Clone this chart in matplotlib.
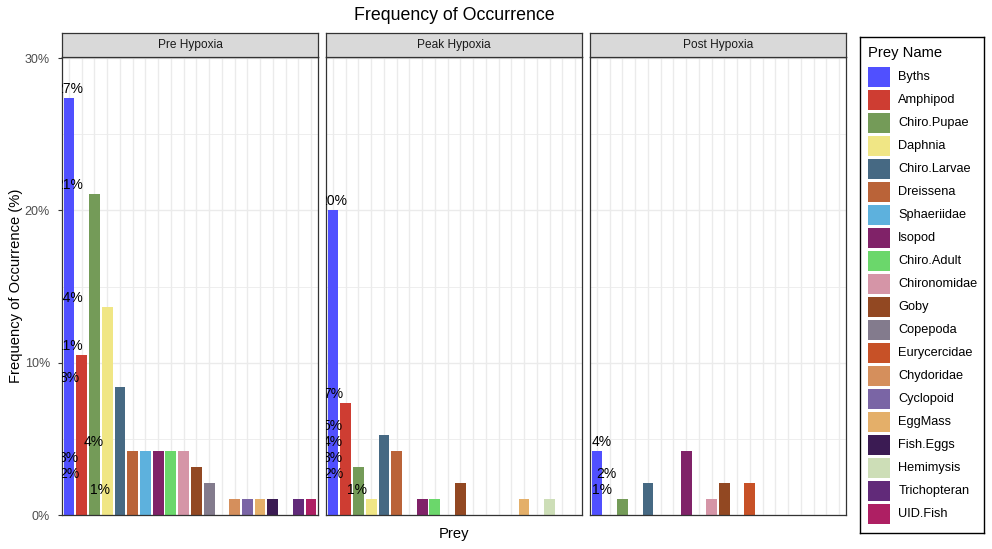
import matplotlib.pyplot as plt
from matplotlib.patches import Rectangle

# Config
W, H = 992, 549
OUT_PATH = "out.png"

plt.rcParams["font.family"] = ["Liberation Sans", "DejaVu Sans"]

prey = ["Byths", "Amphipod", "Chiro.Pupae", "Daphnia", "Chiro.Larvae", "Dreissena",
        "Sphaeriidae", "Isopod", "Chiro.Adult", "Chironomidae", "Goby", "Copepoda",
        "Eurycercidae", "Chydoridae", "Cyclopoid", "EggMass", "Fish.Eggs", "Hemimysis",
        "Trichopteran", "UID.Fish"]

prey_colors = ["#5050FF", "#CE3D32", "#749B58", "#F0E685", "#466983", "#BA6338",
               "#5DB1DD", "#802268", "#6BD76B", "#D595A7", "#924822", "#837B8D",
               "#C75127", "#D58F5C", "#7A65A5", "#E4AF69", "#3B1B53", "#CDDEB7",
               "#612A79", "#AE1F63"]

periods = ["Pre Hypoxia", "Peak Hypoxia", "Post Hypoxia"]

# frequency of occurrence (%) per prey, same order as prey list
pre_freq = [27.37, 10.53, 21.05, 13.68, 8.42, 4.21, 4.21, 4.21, 4.21, 4.21,
            3.16, 2.11, 0, 1.05, 1.05, 1.05, 1.05, 0, 1.05, 1.05]
peak_freq = [20.0, 7.37, 3.16, 1.05, 5.26, 4.21, 0, 1.05, 1.05, 0,
             2.11, 0, 0, 0, 0, 1.05, 0, 1.05, 0, 0]
post_freq = [4.21, 0, 1.05, 0, 2.11, 0, 0, 4.21, 0, 1.05,
             2.11, 0, 2.11, 0, 0, 0, 0, 0, 0, 0]

# text labels (value, x position in category units) as they sit in the original
pre_lab_y = [27.37, 21.05, 13.68, 10.53, 8.42, 4.21, 3.16, 2.11, 1.05]
pre_lab_x = [0, 0, 0, 0, 0, 1.96, 0, 0, 2.45]
peak_lab_y = [20.0, 7.37, 5.26, 4.21, 3.16, 2.11, 1.05]
peak_lab_x = [0, 0, 0, 0, 0, 0, 1.9]
post_lab_y = [4.21, 2.11, 1.05]
post_lab_x = [0.39, 0.76, 0.42]

freqs = [pre_freq, peak_freq, post_freq]
lab_ys = [pre_lab_y, peak_lab_y, post_lab_y]
lab_xs = [pre_lab_x, peak_lab_x, post_lab_x]

y_ticks = [0, 10, 20, 30]
y_minor = [5, 15, 25]


def px_box(x0, y0, x1, y1):
    return [x0 / W, 1 - y1 / H, (x1 - x0) / W, (y1 - y0) / H]


fig = plt.figure(figsize=(W / 100, H / 100), dpi=100)

panel_x = [(61.7, 318.3), (325.7, 582.3), (589.7, 846.3)]
panel_top, panel_bot = 56.7, 515.0
strip_top = 32.7
border = "#333333"

for i, (x0, x1) in enumerate(panel_x):
    ax = fig.add_axes(px_box(x0, panel_top, x1, panel_bot))
    xs = list(range(len(prey)))
    for x, v, c in zip(xs, freqs[i], prey_colors):
        if v > 0:
            ax.bar(x, v, width=0.85, color=c, zorder=2)

    for x, v in zip(lab_xs[i], lab_ys[i]):
        ax.annotate(f"{v:.0f}%", (x, v), xytext=(0, 1.5), textcoords="offset points",
                    ha="center", va="bottom", fontsize=10, color="black",
                    annotation_clip=False, clip_on=True, zorder=3)

    ax.set_xlim(-0.57, len(prey) - 1 + 0.57)
    ax.set_ylim(0, 30.1)
    ax.set_xticks(xs)
    ax.set_yticks(y_ticks)
    ax.set_yticks(y_minor, minor=True)
    ax.grid(True, which="major", color="#EBEBEB", lw=1.0, zorder=0)
    ax.grid(True, which="minor", axis="y", color="#EBEBEB", lw=0.6, zorder=0)
    ax.set_axisbelow(True)
    ax.tick_params(axis="x", length=0, labelbottom=False)
    ax.tick_params(axis="y", which="minor", length=0)
    if i == 0:
        ax.set_yticklabels([f"{t}%" for t in y_ticks])
        ax.tick_params(axis="y", length=3, width=0.8, color=border, pad=5.5,
                       labelsize=9, labelcolor="#4D4D4D")
    else:
        ax.tick_params(axis="y", length=0, labelleft=False)
    for s in ax.spines.values():
        s.set_color(border)
        s.set_linewidth(0.9)

    # facet strip
    sax = fig.add_axes(px_box(x0, strip_top, x1, panel_top))
    sax.set_facecolor("#D9D9D9")
    sax.set_xticks([])
    sax.set_yticks([])
    for s in sax.spines.values():
        s.set_color(border)
        s.set_linewidth(0.9)
    sax.text(0.5, 0.5, periods[i], ha="center", va="center", fontsize=8.6,
             color="#1A1A1A", transform=sax.transAxes)

fig.text(454 / W, 1 - 16 / H, "Frequency of Occurrence", ha="center", va="center",
         fontsize=12.8)
fig.text(454 / W, 1 - 534 / H, "Prey", ha="center", va="center", fontsize=10.6)
fig.text(16 / W, 1 - 286 / H, "Frequency of Occurrence (%)", ha="center", va="center",
         rotation=90, fontsize=10.6)

# legend, drawn in its own axes (pixel units, y pointing down)
lx0, ly0, lx1, ly1 = 860.3, 37.3, 984.3, 533.3
lax = fig.add_axes(px_box(lx0, ly0, lx1, ly1))
lax.set_xlim(0, lx1 - lx0)
lax.set_ylim(ly1 - ly0, 0)
lax.set_xticks([])
lax.set_yticks([])
for s in lax.spines.values():
    s.set_color("black")
    s.set_linewidth(1.0)
lax.text(8, 16, "Prey Name", ha="left", va="center", fontsize=10.6)
key_top, key_h, key_w, pitch = 30, 20, 22, 23
for k, (name, c) in enumerate(zip(prey, prey_colors)):
    y = key_top + k * pitch
    lax.add_patch(Rectangle((8, y), key_w, key_h, facecolor=c, edgecolor="none"))
    lax.text(38, y + key_h / 2, name, ha="left", va="center", fontsize=9.2)

fig.savefig(OUT_PATH, dpi=100)
